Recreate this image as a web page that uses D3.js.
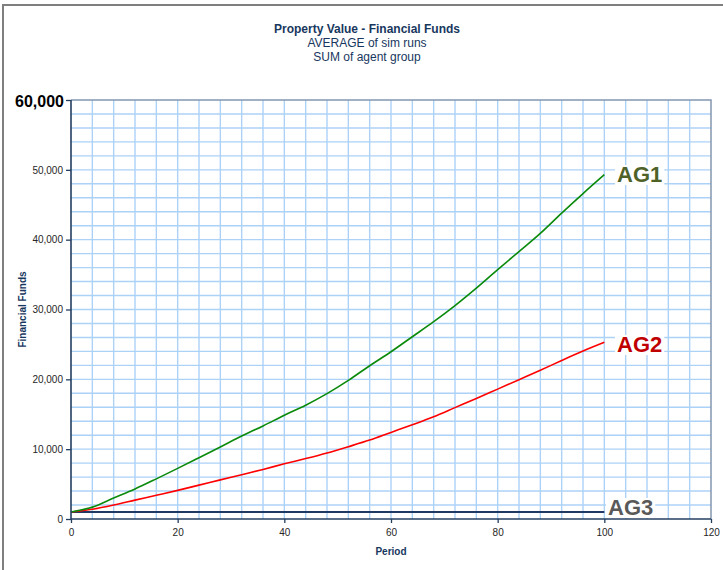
<!DOCTYPE html>
<html><head><meta charset="utf-8">
<script src="https://cdn.jsdelivr.net/npm/d3@7"></script>
<style>
html,body{margin:0;padding:0;background:#fff;}
svg{display:block;font-family:"Liberation Sans",Arial,sans-serif;}
</style></head>
<body>
<svg id="chart" width="723" height="570"></svg>
<script>
// ---- data ----
const periods = [0,4,8,12,16,20,24,28,32,36,40,44,48,52,56,60,64,68,72,76,80,84,88,92,96,100];
const ag1 = [1000,1700,3000,4300,5750,7250,8780,10320,11880,13330,14850,16300,17950,19850,21950,23950,26100,28250,30550,33050,35700,38300,40900,43800,46600,49300];
const ag2 = [1000,1400,2000,2700,3400,4100,4850,5600,6350,7100,7900,8650,9450,10350,11300,12400,13500,14650,15950,17250,18600,19950,21300,22700,24050,25300];
const ag3 = [1000,1000,1000,1000,1000,1000,1000,1000,1000,1000,1000,1000,1000,1000,1000,1000,1000,1000,1000,1000,1000,1000,1000,1000,1000,1000];
const seriesNames = ["AG1","AG2","AG3"];
const xTicks = [0,20,40,60,80,100,120];
const yTicks = [0,10000,20000,30000,40000,50000,60000];
const titleLines = ["Property Value - Financial Funds","AVERAGE of sim runs","SUM of agent group"];
const xTitle = "Period";
const yTitle = "Financial Funds";

// ---- layout ----
const svg = d3.select("#chart");
const L = 71, R = 711, T = 100, B = 519;
const x = d3.scaleLinear().domain([0,120]).range([L,R]);
const y = d3.scaleLinear().domain([0,60000]).range([B,T]);

// outer frame
svg.append("rect").attr("x",3).attr("y",5).attr("width",760).attr("height",600)
  .attr("fill","#fff").attr("stroke","#7f7f7f").attr("stroke-width",2);

// titles
const tcx = 367;
svg.append("text").attr("x",tcx).attr("y",33).attr("text-anchor","middle")
  .attr("font-size",12).attr("font-weight","bold").attr("fill","#17375e").text(titleLines[0]);
svg.append("text").attr("x",tcx).attr("y",47).attr("text-anchor","middle")
  .attr("font-size",12).attr("fill","#17375e").text(titleLines[1]);
svg.append("text").attr("x",tcx).attr("y",61).attr("text-anchor","middle")
  .attr("font-size",12).attr("fill","#17375e").text(titleLines[2]);

// grid
const g = svg.append("g");
g.selectAll("line.vg").data(d3.range(4,120,4)).join("line").attr("class","vg")
  .attr("x1",d=>x(d)).attr("x2",d=>x(d)).attr("y1",T).attr("y2",B)
  .attr("stroke","#acd2f8").attr("stroke-width",1.4);
g.selectAll("line.hg").data(d3.range(2000,60000,2000)).join("line").attr("class","hg")
  .attr("x1",L).attr("x2",R).attr("y1",d=>y(d)).attr("y2",d=>y(d))
  .attr("stroke","#acd2f8").attr("stroke-width",1.4);

// top/right border
svg.append("path").attr("d",`M${L},${T}H${R}V${B}`).attr("fill","none")
  .attr("stroke","#8496b0").attr("stroke-width",1.5);

// lines
const line = d3.line().x((d,i)=>x(periods[i])).y(d=>y(d)).curve(d3.curveMonotoneX);
const colors = ["#0a8a0a","#ff0000","#1f3864"];
const widths = [1.6,1.6,2];
[ag3,ag2,ag1].forEach((s,k)=>{
  const idx = 2-k;
  svg.append("path").datum(s).attr("d",line).attr("fill","none")
    .attr("stroke",colors[idx]).attr("stroke-width",widths[idx]).attr("stroke-linejoin","round");
});

// axes
const yAxis = svg.append("g").attr("transform",`translate(${L},0)`)
  .call(d3.axisLeft(y).tickValues(yTicks).tickFormat(d3.format(",")).tickSize(5).tickPadding(3));
const xAxis = svg.append("g").attr("transform",`translate(0,${B})`)
  .call(d3.axisBottom(x).tickValues(xTicks).tickSize(4).tickPadding(6));
[yAxis,xAxis].forEach(a=>{
  a.select(".domain").attr("stroke","#243f60").attr("stroke-width",1.6);
  a.selectAll(".tick line").attr("stroke","#243f60").attr("stroke-width",1.3);
  a.selectAll(".tick text").attr("fill","#262626").attr("font-size",10)
    .attr("font-family","Liberation Sans, Arial, sans-serif");
});
yAxis.select(".domain").attr("d",`M0,${T}V${B}`);
xAxis.select(".domain").attr("d",`M${L},0H${R}`);
yAxis.selectAll(".tick").filter(d=>d===60000).select("text")
  .attr("font-size",16).attr("font-weight","bold").attr("fill","#000").attr("x",-7).attr("dy","0.4em");

// axis titles
svg.append("text").attr("x",(L+R)/2).attr("y",555).attr("text-anchor","middle")
  .attr("font-size",10).attr("font-weight","bold").attr("fill","#17375e").text(xTitle);
svg.append("text").attr("transform",`translate(26,${(T+B)/2}) rotate(-90)`).attr("text-anchor","middle")
  .attr("font-size",10).attr("font-weight","bold").attr("fill","#17375e").text(yTitle);

// series labels
const labelColors = ["#4f6228","#c00000","#595959"];
const labelPos = [[617,182],[617,352],[608,515]];
seriesNames.forEach((n,i)=>{
  const t = svg.append("text").attr("x",labelPos[i][0]).attr("y",labelPos[i][1])
    .attr("font-size",22).attr("font-weight","bold").attr("fill",labelColors[i]).text(n);
  const bb = t.node().getBBox();
  svg.insert("rect", function(){return t.node();})
    .attr("x",bb.x-2).attr("y",bb.y+3).attr("width",bb.width+4).attr("height",bb.height-5).attr("fill","#fff");
});
</script>
</body></html>
